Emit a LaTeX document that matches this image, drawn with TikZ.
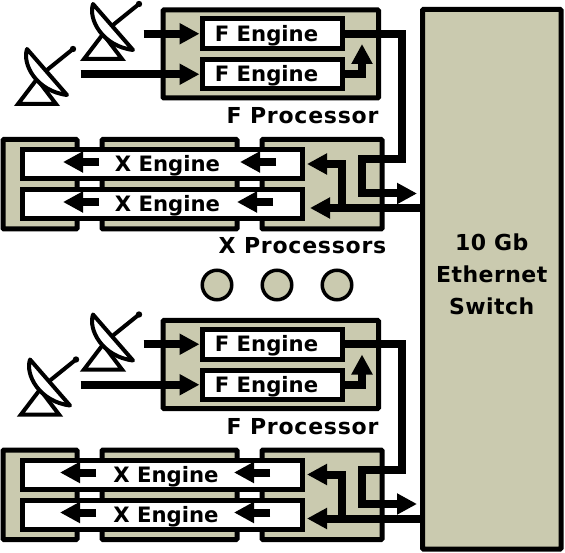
\documentclass[tikz,border=0pt]{standalone}
\usepackage{fontspec}
\usepackage{amsmath,amssymb}
\usetikzlibrary{arrows.meta}
\setmainfont{DejaVu Sans}
\newfontfamily\enginefont{DejaVu Sans Bold}
\newfontfamily\procfont[LetterSpace=3.5]{DejaVu Sans Bold}
\newfontfamily\switchfont[LetterSpace=2]{DejaVu Sans Bold}
\definecolor{khaki}{HTML}{CACAAF}
\tikzset{
  procbox/.style={draw, line width=5pt, fill=khaki, rounded corners=1pt, inner sep=0pt},
  enginebox/.style={draw, line width=5pt, fill=white, inner sep=0pt, text height=15.5pt, text depth=0pt, font=\enginefont\fontsize{21.2}{24}\selectfont},
  proclabel/.style={inner sep=0pt, font=\procfont\fontsize{22}{24}\selectfont},
  wire/.style={line width=8pt, -{Triangle[length=20pt,width=20pt]}},
  dots/.style={draw, circle, line width=3.5pt, fill=khaki, minimum size=29.5pt, inner sep=0pt},
  dish/.pic={
    \draw[line width=4pt, fill=white] (2,0) -- (21,-25) -- (40,0) -- cycle;
    \draw[line width=4pt, fill=white, line join=round] (11,-55) .. controls (6,-40) and (20,-13) .. (51,-9) -- cycle;
    \draw[line width=4pt] (31,-34) -- (57,-55);
    \fill (57,-55) circle (3.2);
  }
}
\begin{document}
\begin{tikzpicture}[x=1pt, y=-1pt]
\useasboundingbox (0,0) rectangle (565,553);

% Switch and dots
\node[procbox, minimum width=138.5pt, minimum height=539.5pt, align=center, font=\switchfont\fontsize{22}{32}\selectfont] (SW) at (491.75,279.25) {\raisebox{10pt}{10 Gb}\\\raisebox{10pt}{Ethernet}\\\raisebox{10pt}{Switch}};
\node[dots] (D1) at (217,285) {};
\node[dots] (D2) at (277,285) {};
\node[dots] (D3) at (337,285) {};
\node[proclabel] (XT) at (302.5,246) {X Processors};

% Top and bottom groups
\foreach \g/\s/\dt/\ra/\rb/\dd in {1/0/0/276/273/0, 2/310.5/-3/270/270/3} {
\begin{scope}[yshift=-\s pt]
\pic at (16+\dd,104) {dish};
\pic at (82,59) {dish};

\node[procbox, minimum width=215.5pt, minimum height=88pt] (FP\g) at (270.75,54) {};
\node[enginebox, minimum width=140pt, minimum height=29.5pt] (FA\g) at (272,33.75) {F Engine\hspace*{11pt}};
\node[enginebox, minimum width=140pt, minimum height=29.5pt] (FB\g) at (272,74.25) {F Engine\hspace*{11pt}};
\node[proclabel] (FL\g) at (302.5,116) {F Processor};

\node[procbox, minimum width=74pt, minimum height=89.5pt] (XL\g) at (40,184.25) {};
\node[procbox, minimum width=135pt, minimum height=89.5pt] (XM\g) at (169.5,184.25) {};
\node[procbox, minimum width=120pt, minimum height=89.5pt] (XR\g) at (322,184.25) {};
\node[enginebox, minimum width=280pt, minimum height=29.5pt] (XA\g) at (162,164.25) {\hspace*{\dimexpr 11pt+\dt pt\relax}X Engine};
\node[enginebox, minimum width=280pt, minimum height=29.5pt] (XB\g) at (162,204.25) {\hspace*{\dimexpr 11pt+\dt pt\relax}X Engine};

% input arrows
\coordinate (IA\g) at ([xshift=-56pt]FA\g.west);
\coordinate (IB\g) at ([xshift=-119pt]FB\g.west);
\draw[wire] (IA\g) -- (FA\g.west);
\draw[wire] (IB\g) -- (FB\g.west);

% F engines out
\coordinate (UP\g) at (362,44);
\coordinate (C1\g) at (402,33.75);
\coordinate (C2\g) at (402,159);
\coordinate (C3\g) at (362,159);
\coordinate (OUT\g) at (417,193.5);
\draw[wire] (FB\g.east) -| (UP\g);
\draw[wire] (FA\g.east) -- (C1\g) -- (C2\g) -- (C3\g) |- (OUT\g);

% switch back to X engines
\coordinate (TA\g) at (307,164);
\coordinate (TB\g) at (310+\dt,208);
\coordinate (J\g) at (342,208);
\draw[wire] (SW.west |- J\g) -- (TB\g);
\draw[wire] (J\g) |- (TA\g);

% arrows inside X engines
\coordinate (LA\g) at (99+\dt,162);
\coordinate (LB\g) at (99+\dt,202);
\coordinate (LC\g) at (\ra,162);
\coordinate (LD\g) at (\rb,202);
\draw[wire] (LA\g) -- ++(-36,0);
\draw[wire] (LB\g) -- ++(-36,0);
\draw[wire] (LC\g) -- ++(-36,0);
\draw[wire] (LD\g) -- ++(-36,0);
\end{scope}
}
\end{tikzpicture}
\end{document}
